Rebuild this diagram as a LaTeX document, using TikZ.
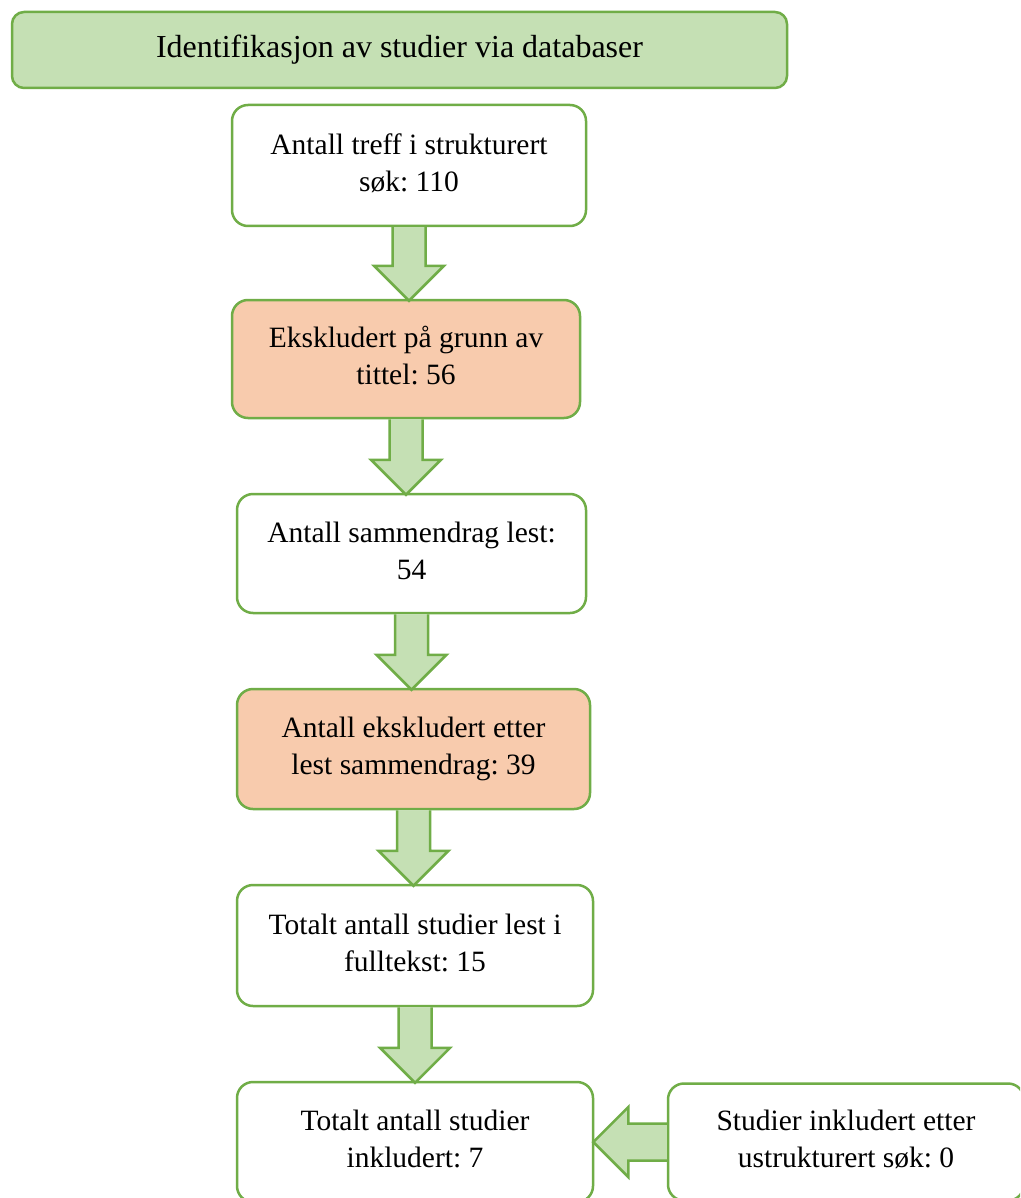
\documentclass[tikz,border=0pt]{standalone}
\usepackage{fontspec}
\setmainfont{Liberation Serif}
\usetikzlibrary{calc}
\frenchspacing
\definecolor{gfill}{HTML}{C5E0B4}
\definecolor{gline}{HTML}{70AD47}
\definecolor{ofill}{HTML}{F8CBAD}
\newcommand{\twolines}[2]{\raisebox{5pt}{\begin{tabular}{@{}c@{}}#1\\#2\end{tabular}}}
\newcommand{\blockdown}[2]{%
  \coordinate (tip) at (#1.south |- #2.north);
  \draw[blockarrow] ($(#1.south)+(-16.5,0)$) -- ($(tip)+(-16.5,-33)$) -- ($(tip)+(-35,-33)$) -- ($(tip)+(0,2)$) -- ($(tip)+(35,-33)$) -- ($(tip)+(16.5,-33)$) -- ($(#1.south)+(16.5,0)$);
}
\begin{document}
\begin{tikzpicture}[x=1pt,y=-1pt,
  box/.style={draw=gline, line width=2.5pt, rounded corners=16pt, fill=white, align=center,
    font=\fontsize{29.5}{37}\selectfont, inner sep=0pt, minimum width=350pt, minimum height=120pt},
  exclbox/.style={box, fill=ofill},
  headbox/.style={draw=gline, line width=2.5pt, rounded corners=12pt, fill=gfill, align=center,
    font=\fontsize{32}{37}\selectfont, inner sep=0pt, minimum width=775pt, minimum height=76pt},
  blockarrow/.style={draw=gline, line width=2.5pt, fill=gfill, line join=miter}]
\clip (0,0) rectangle (1020,1198);
\fill[white] (0,0) rectangle (1020,1198);
\node[headbox] (head) at (399.5,50) {\raisebox{2pt}{Identifikasjon av studier via databaser}};
\node[box, minimum width=354pt, minimum height=121pt] (b1) at (409,165.5) {\twolines{Antall treff i strukturert}{søk: 110}};
\node[exclbox, minimum width=348pt, minimum height=118pt] (b2) at (406,359) {\twolines{Ekskludert på grunn av}{tittel: 56}};
\node[box, minimum width=349pt, minimum height=119pt] (b3) at (411.5,553.5) {\twolines{Antall sammendrag lest:}{54}};
\node[exclbox, minimum width=353pt, minimum height=120pt] (b4) at (413.5,749) {\twolines{Antall ekskludert etter}{lest sammendrag: 39}};
\node[box, minimum width=356pt, minimum height=121pt] (b5) at (415,945.5) {\twolines{Totalt antall studier lest i}{fulltekst: 15}};
\node[box, minimum width=356pt, minimum height=120pt] (b6) at (415,1142) {\twolines{Totalt antall studier}{inkludert: 7}};
\node[box, minimum width=356pt, minimum height=117pt] (b7) at (846,1142) {\twolines{Studier inkludert etter}{ustrukturert søk: 0}};
\blockdown{b1}{b2}
\blockdown{b2}{b3}
\blockdown{b3}{b4}
\blockdown{b4}{b5}
\blockdown{b5}{b6}
\coordinate (ltip) at (b6.east |- b7.west);
\draw[blockarrow] ($(b7.west)+(0,-18.5)$) -- ($(ltip)+(34,-18.5)$) -- ($(ltip)+(34,-35)$) -- ($(ltip)+(-1,0)$) -- ($(ltip)+(34,35)$) -- ($(ltip)+(34,18.5)$) -- ($(b7.west)+(0,18.5)$);
\end{tikzpicture}
\end{document}
